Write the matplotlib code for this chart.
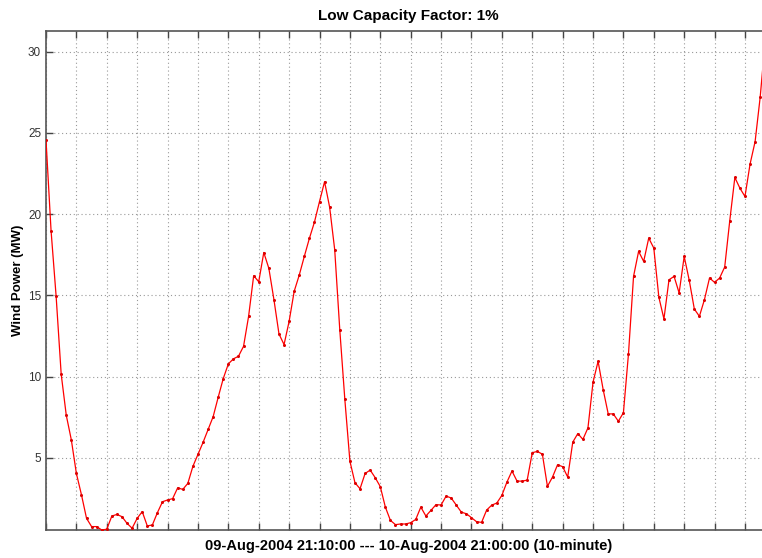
import matplotlib
matplotlib.use("Agg")
import matplotlib.pyplot as plt
import numpy as np

title = "Low Capacity Factor: 1%"
xlabel = "09-Aug-2004 21:10:00 --- 10-Aug-2004 21:00:00 (10-minute)"
ylabel = "Wind Power (MW)"

power_mw = [
    24.58, 18.98, 14.94, 10.14, 7.62, 6.10, 4.03, 2.72, 1.27, 0.76,
    0.76, 0.55, 0.60, 1.41, 1.51, 1.37, 0.96, 0.66, 1.27, 1.68,
    0.80, 0.86, 1.62, 2.29, 2.40, 2.48, 3.15, 3.05, 3.42, 4.47,
    5.20, 5.94, 6.74, 7.53, 8.73, 9.88, 10.78, 11.09, 11.25, 11.86,
    13.71, 16.21, 15.84, 17.64, 16.66, 14.74, 12.62, 11.97, 13.40, 15.25,
    16.25, 17.40, 18.51, 19.51, 20.78, 22.00, 20.43, 17.81, 12.89, 8.59,
    4.79, 3.46, 3.09, 4.03, 4.24, 3.77, 3.22, 1.96, 1.14, 0.88,
    0.92, 0.92, 1.00, 1.20, 1.96, 1.41, 1.76, 2.11, 2.09, 2.64,
    2.52, 2.08, 1.65, 1.55, 1.31, 1.06, 1.02, 1.78, 2.08, 2.21,
    2.68, 3.50, 4.18, 3.56, 3.56, 3.62, 5.31, 5.39, 5.22, 3.24,
    3.81, 4.57, 4.45, 3.81, 5.96, 6.49, 6.13, 6.84, 9.65, 10.94,
    9.20, 7.70, 7.70, 7.25, 7.77, 11.40, 16.17, 17.71, 17.09, 18.53,
    17.91, 14.88, 13.55, 15.96, 16.17, 15.15, 17.40, 15.92, 14.16, 13.71,
    14.74, 16.07, 15.80, 16.07, 16.75, 19.61, 22.26, 21.60, 21.09, 23.08,
    24.47, 27.20, 30.70, 31.30,
]
sample_index = list(range(len(power_mw)))
x_ticks = list(range(0, len(power_mw), 6))
y_ticks = [5, 10, 15, 20, 25, 30]

plt.rcParams['font.family'] = ['Liberation Sans', 'DejaVu Sans']

W, H = 762, 558
fig = plt.figure(figsize=(W / 100, H / 100), dpi=100)
left, right, top, bottom = 46, 770.3, 30.7, 530
ax = fig.add_axes([left / W, (H - bottom) / H, (right - left) / W, (bottom - top) / H])

ax.plot(sample_index, power_mw, color='#ff0000', lw=0.9, marker='o',
        markersize=2.2, markeredgewidth=0, markerfacecolor='#dd0000', zorder=3)

ax.set_xlim(0, len(power_mw) - 1)
ax.set_ylim(min(power_mw), max(power_mw))
ax.set_xticks(x_ticks)
ax.set_xticklabels([])
ax.set_yticks(y_ticks)
ax.set_yticklabels([str(v) for v in y_ticks])
ax.tick_params(direction='in', length=5, width=1.0, color='#444444',
               labelsize=8.5, labelcolor='#333333', top=True, right=True)
ax.grid(True, linestyle=(0, (1, 2.5)), color='#999999', lw=0.8)
for s in ax.spines.values():
    s.set_color('#555555')
    s.set_linewidth(1.2)

ax.set_title(title, fontsize=11, fontweight='bold', pad=8)
ax.set_xlabel(xlabel, fontsize=10.5, fontweight='bold', labelpad=3)
ax.set_ylabel(ylabel, fontsize=9.5, fontweight='bold', labelpad=3)

fig.savefig('out.png', dpi=100)
